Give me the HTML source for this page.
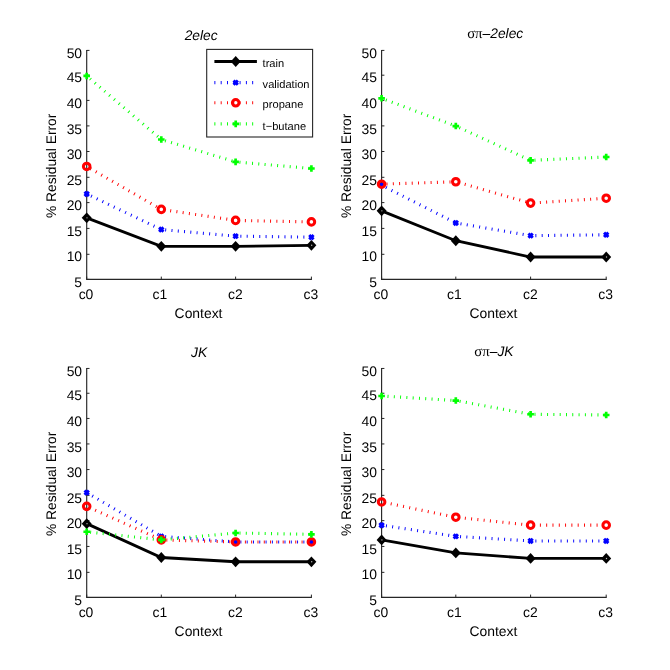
<!DOCTYPE html>
<html><head><meta charset="utf-8"><title>Residual Error</title>
<style>html,body{margin:0;padding:0;background:#fff}svg{display:block;will-change:transform;opacity:0.999}</style></head>
<body><svg width="670" height="670" viewBox="0 0 670 670" shape-rendering="geometricPrecision" text-rendering="geometricPrecision">
<rect width="670" height="670" fill="#fff"/>
<path d="M86.70 50.00L86.70 279.40L311.90 279.40" stroke="#262626" stroke-width="1.15" fill="none"/>
<path d="M86.70 279.40L89.50 279.40" stroke="#262626" stroke-width="1" fill="none"/>
<text x="82.10" y="286.50" text-anchor="end" font-family="Liberation Sans, sans-serif" font-size="13.9">5</text>
<path d="M86.70 254.30L89.50 254.30" stroke="#262626" stroke-width="1" fill="none"/>
<text x="82.10" y="261.00" text-anchor="end" font-family="Liberation Sans, sans-serif" font-size="13.9">10</text>
<path d="M86.70 228.40L89.50 228.40" stroke="#262626" stroke-width="1" fill="none"/>
<text x="82.10" y="235.70" text-anchor="end" font-family="Liberation Sans, sans-serif" font-size="13.9">15</text>
<path d="M86.70 202.60L89.50 202.60" stroke="#262626" stroke-width="1" fill="none"/>
<text x="82.10" y="209.90" text-anchor="end" font-family="Liberation Sans, sans-serif" font-size="13.9">20</text>
<path d="M86.70 177.30L89.50 177.30" stroke="#262626" stroke-width="1" fill="none"/>
<text x="82.10" y="184.80" text-anchor="end" font-family="Liberation Sans, sans-serif" font-size="13.9">25</text>
<path d="M86.70 151.50L89.50 151.50" stroke="#262626" stroke-width="1" fill="none"/>
<text x="82.10" y="158.70" text-anchor="end" font-family="Liberation Sans, sans-serif" font-size="13.9">30</text>
<path d="M86.70 125.90L89.50 125.90" stroke="#262626" stroke-width="1" fill="none"/>
<text x="82.10" y="133.60" text-anchor="end" font-family="Liberation Sans, sans-serif" font-size="13.9">35</text>
<path d="M86.70 100.40L89.50 100.40" stroke="#262626" stroke-width="1" fill="none"/>
<text x="82.10" y="107.80" text-anchor="end" font-family="Liberation Sans, sans-serif" font-size="13.9">40</text>
<path d="M86.70 75.20L89.50 75.20" stroke="#262626" stroke-width="1" fill="none"/>
<text x="82.10" y="82.20" text-anchor="end" font-family="Liberation Sans, sans-serif" font-size="13.9">45</text>
<path d="M86.70 50.40L89.50 50.40" stroke="#262626" stroke-width="1" fill="none"/>
<text x="82.10" y="57.70" text-anchor="end" font-family="Liberation Sans, sans-serif" font-size="13.9">50</text>
<path d="M86.70 279.40L86.70 276.60" stroke="#262626" stroke-width="1" fill="none"/>
<text x="86.00" y="299.40" text-anchor="middle" font-family="Liberation Sans, sans-serif" font-size="13.9">c0</text>
<path d="M161.30 279.40L161.30 276.60" stroke="#262626" stroke-width="1" fill="none"/>
<text x="159.90" y="299.40" text-anchor="middle" font-family="Liberation Sans, sans-serif" font-size="13.9">c1</text>
<path d="M235.60 279.40L235.60 276.60" stroke="#262626" stroke-width="1" fill="none"/>
<text x="235.30" y="299.40" text-anchor="middle" font-family="Liberation Sans, sans-serif" font-size="13.9">c2</text>
<path d="M311.40 279.40L311.40 276.60" stroke="#262626" stroke-width="1" fill="none"/>
<text x="310.80" y="299.40" text-anchor="middle" font-family="Liberation Sans, sans-serif" font-size="13.9">c3</text>
<text x="198.55" y="317.80" text-anchor="middle" font-family="Liberation Sans, sans-serif" font-size="13.9">Context</text>
<text transform="translate(56.30 165.85) rotate(-90)" text-anchor="middle" font-family="Liberation Sans, sans-serif" font-size="13.9" textLength="104.5" lengthAdjust="spacingAndGlyphs">% Residual Error</text>
<text x="201.15" y="39.50" text-anchor="middle" font-family="Liberation Sans, sans-serif" font-size="13.8" font-style="italic">2elec</text>
<path d="M86.70 217.85L161.30 246.34L235.60 246.34L311.40 245.32" stroke="#000" stroke-width="2.85" fill="none" stroke-linejoin="miter"/>
<path d="M81.70 217.85L86.70 212.45L91.70 217.85L86.70 223.25Z" fill="#000"/><circle cx="87.00" cy="217.85" r="0.7" fill="#bbb"/>
<path d="M156.30 246.34L161.30 240.94L166.30 246.34L161.30 251.74Z" fill="#000"/>
<path d="M230.60 246.34L235.60 240.94L240.60 246.34L235.60 251.74Z" fill="#000"/>
<path d="M306.40 245.32L311.40 239.92L316.40 245.32L311.40 250.72Z" fill="#000"/><circle cx="311.70" cy="245.32" r="0.7" fill="#bbb"/>
<path d="M86.70 193.94L161.30 229.55" stroke="#0000ff" stroke-width="3.1" fill="none" stroke-dasharray="0.95 5.35" stroke-dashoffset="-4.80"/><path d="M161.30 229.55L235.60 236.16" stroke="#0000ff" stroke-width="3.1" fill="none" stroke-dasharray="0.95 5.35" stroke-dashoffset="-3.95"/><path d="M235.60 236.16L311.40 237.18" stroke="#0000ff" stroke-width="3.1" fill="none" stroke-dasharray="0.95 5.35" stroke-dashoffset="-4.80"/>
<path d="M84.55 191.79L88.85 196.09M84.55 196.09L88.85 191.79" stroke="#0000ff" stroke-width="3.0" fill="none"/>
<path d="M159.15 227.40L163.45 231.70M159.15 231.70L163.45 227.40" stroke="#0000ff" stroke-width="3.0" fill="none"/>
<path d="M233.45 234.01L237.75 238.31M233.45 238.31L237.75 234.01" stroke="#0000ff" stroke-width="3.0" fill="none"/>
<path d="M309.25 235.03L313.55 239.33M309.25 239.33L313.55 235.03" stroke="#0000ff" stroke-width="3.0" fill="none"/>
<path d="M86.70 166.48L161.30 209.41" stroke="#ff0000" stroke-width="3.1" fill="none" stroke-dasharray="0.95 5.35" stroke-dashoffset="-4.20"/><path d="M161.30 209.41L235.60 220.39" stroke="#ff0000" stroke-width="3.1" fill="none" stroke-dasharray="0.95 5.35" stroke-dashoffset="-2.70"/><path d="M235.60 220.39L311.40 221.92" stroke="#ff0000" stroke-width="3.1" fill="none" stroke-dasharray="0.95 5.35" stroke-dashoffset="-3.00"/>
<circle cx="86.70" cy="166.48" r="3.3" stroke="#ff0000" stroke-width="3.0" fill="none"/>
<circle cx="161.30" cy="209.41" r="3.3" stroke="#ff0000" stroke-width="3.0" fill="none"/>
<circle cx="235.60" cy="220.39" r="3.3" stroke="#ff0000" stroke-width="3.0" fill="none"/>
<circle cx="311.40" cy="221.92" r="3.3" stroke="#ff0000" stroke-width="3.0" fill="none"/>
<path d="M86.70 75.93L161.30 139.52" stroke="#00ff00" stroke-width="3.1" fill="none" stroke-dasharray="0.95 5.35" stroke-dashoffset="-4.45"/><path d="M161.30 139.52L235.60 161.90" stroke="#00ff00" stroke-width="3.1" fill="none" stroke-dasharray="0.95 5.35" stroke-dashoffset="-3.90"/><path d="M235.60 161.90L311.40 168.51" stroke="#00ff00" stroke-width="3.1" fill="none" stroke-dasharray="0.95 5.35" stroke-dashoffset="-3.90"/>
<path d="M83.40 75.93L90.00 75.93M86.70 72.63L86.70 79.23" stroke="#00ff00" stroke-width="2.67" fill="none"/>
<path d="M158.00 139.52L164.60 139.52M161.30 136.22L161.30 142.82" stroke="#00ff00" stroke-width="2.67" fill="none"/>
<path d="M232.30 161.90L238.90 161.90M235.60 158.60L235.60 165.20" stroke="#00ff00" stroke-width="2.67" fill="none"/>
<path d="M308.10 168.51L314.70 168.51M311.40 165.21L311.40 171.81" stroke="#00ff00" stroke-width="2.67" fill="none"/>
<path d="M381.60 50.00L381.60 279.40L606.70 279.40" stroke="#262626" stroke-width="1.15" fill="none"/>
<path d="M381.60 279.40L384.40 279.40" stroke="#262626" stroke-width="1" fill="none"/>
<text x="377.00" y="286.50" text-anchor="end" font-family="Liberation Sans, sans-serif" font-size="13.9">5</text>
<path d="M381.60 254.30L384.40 254.30" stroke="#262626" stroke-width="1" fill="none"/>
<text x="377.00" y="261.00" text-anchor="end" font-family="Liberation Sans, sans-serif" font-size="13.9">10</text>
<path d="M381.60 228.40L384.40 228.40" stroke="#262626" stroke-width="1" fill="none"/>
<text x="377.00" y="235.70" text-anchor="end" font-family="Liberation Sans, sans-serif" font-size="13.9">15</text>
<path d="M381.60 202.60L384.40 202.60" stroke="#262626" stroke-width="1" fill="none"/>
<text x="377.00" y="209.90" text-anchor="end" font-family="Liberation Sans, sans-serif" font-size="13.9">20</text>
<path d="M381.60 177.30L384.40 177.30" stroke="#262626" stroke-width="1" fill="none"/>
<text x="377.00" y="184.80" text-anchor="end" font-family="Liberation Sans, sans-serif" font-size="13.9">25</text>
<path d="M381.60 151.50L384.40 151.50" stroke="#262626" stroke-width="1" fill="none"/>
<text x="377.00" y="158.70" text-anchor="end" font-family="Liberation Sans, sans-serif" font-size="13.9">30</text>
<path d="M381.60 125.90L384.40 125.90" stroke="#262626" stroke-width="1" fill="none"/>
<text x="377.00" y="133.60" text-anchor="end" font-family="Liberation Sans, sans-serif" font-size="13.9">35</text>
<path d="M381.60 100.40L384.40 100.40" stroke="#262626" stroke-width="1" fill="none"/>
<text x="377.00" y="107.80" text-anchor="end" font-family="Liberation Sans, sans-serif" font-size="13.9">40</text>
<path d="M381.60 75.20L384.40 75.20" stroke="#262626" stroke-width="1" fill="none"/>
<text x="377.00" y="82.20" text-anchor="end" font-family="Liberation Sans, sans-serif" font-size="13.9">45</text>
<path d="M381.60 50.40L384.40 50.40" stroke="#262626" stroke-width="1" fill="none"/>
<text x="377.00" y="57.70" text-anchor="end" font-family="Liberation Sans, sans-serif" font-size="13.9">50</text>
<path d="M381.60 279.40L381.60 276.60" stroke="#262626" stroke-width="1" fill="none"/>
<text x="380.90" y="299.40" text-anchor="middle" font-family="Liberation Sans, sans-serif" font-size="13.9">c0</text>
<path d="M455.80 279.40L455.80 276.60" stroke="#262626" stroke-width="1" fill="none"/>
<text x="454.40" y="299.40" text-anchor="middle" font-family="Liberation Sans, sans-serif" font-size="13.9">c1</text>
<path d="M530.60 279.40L530.60 276.60" stroke="#262626" stroke-width="1" fill="none"/>
<text x="530.30" y="299.40" text-anchor="middle" font-family="Liberation Sans, sans-serif" font-size="13.9">c2</text>
<path d="M606.20 279.40L606.20 276.60" stroke="#262626" stroke-width="1" fill="none"/>
<text x="605.60" y="299.40" text-anchor="middle" font-family="Liberation Sans, sans-serif" font-size="13.9">c3</text>
<text x="493.40" y="317.80" text-anchor="middle" font-family="Liberation Sans, sans-serif" font-size="13.9">Context</text>
<text transform="translate(351.20 165.85) rotate(-90)" text-anchor="middle" font-family="Liberation Sans, sans-serif" font-size="13.9" textLength="104.5" lengthAdjust="spacingAndGlyphs">% Residual Error</text>
<text x="495.20" y="38.40" text-anchor="middle" font-family="Liberation Sans, sans-serif" font-size="13.8"><tspan font-family="Liberation Serif, serif" font-size="14.8">σπ</tspan><tspan font-style="italic">–2elec</tspan></text>
<path d="M381.60 210.83L455.80 240.74L530.60 257.02L606.20 257.02" stroke="#000" stroke-width="2.85" fill="none" stroke-linejoin="miter"/>
<path d="M376.60 210.83L381.60 205.43L386.60 210.83L381.60 216.23Z" fill="#000"/><circle cx="381.90" cy="210.83" r="0.7" fill="#bbb"/>
<path d="M450.80 240.74L455.80 235.34L460.80 240.74L455.80 246.14Z" fill="#000"/>
<path d="M525.60 257.02L530.60 251.62L535.60 257.02L530.60 262.42Z" fill="#000"/>
<path d="M601.20 257.02L606.20 251.62L611.20 257.02L606.20 262.42Z" fill="#000"/><circle cx="606.50" cy="257.02" r="0.7" fill="#bbb"/>
<path d="M381.60 185.30L455.80 222.94" stroke="#0000ff" stroke-width="3.1" fill="none" stroke-dasharray="0.95 5.35" stroke-dashoffset="-4.80"/><path d="M455.80 222.94L530.60 235.65" stroke="#0000ff" stroke-width="3.1" fill="none" stroke-dasharray="0.95 5.35" stroke-dashoffset="-4.80"/><path d="M530.60 235.65L606.20 234.79" stroke="#0000ff" stroke-width="3.1" fill="none" stroke-dasharray="0.95 5.35" stroke-dashoffset="-4.80"/>
<path d="M379.45 183.15L383.75 187.45M379.45 187.45L383.75 183.15" stroke="#0000ff" stroke-width="3.0" fill="none"/>
<path d="M453.65 220.79L457.95 225.09M453.65 225.09L457.95 220.79" stroke="#0000ff" stroke-width="3.0" fill="none"/>
<path d="M528.45 233.50L532.75 237.80M528.45 237.80L532.75 233.50" stroke="#0000ff" stroke-width="3.0" fill="none"/>
<path d="M604.05 232.64L608.35 236.94M604.05 236.94L608.35 232.64" stroke="#0000ff" stroke-width="3.0" fill="none"/>
<path d="M381.60 184.18L455.80 181.74" stroke="#ff0000" stroke-width="3.1" fill="none" stroke-dasharray="0.95 5.35" stroke-dashoffset="-4.95"/><path d="M455.80 181.74L530.60 203.10" stroke="#ff0000" stroke-width="3.1" fill="none" stroke-dasharray="0.95 5.35" stroke-dashoffset="-3.00"/><path d="M530.60 203.10L606.20 198.22" stroke="#ff0000" stroke-width="3.1" fill="none" stroke-dasharray="0.95 5.35" stroke-dashoffset="-3.00"/>
<circle cx="381.60" cy="184.18" r="3.3" stroke="#ff0000" stroke-width="3.0" fill="none"/>
<circle cx="455.80" cy="181.74" r="3.3" stroke="#ff0000" stroke-width="3.0" fill="none"/>
<circle cx="530.60" cy="203.10" r="3.3" stroke="#ff0000" stroke-width="3.0" fill="none"/>
<circle cx="606.20" cy="198.22" r="3.3" stroke="#ff0000" stroke-width="3.0" fill="none"/>
<path d="M381.60 98.31L455.80 126.04" stroke="#00ff00" stroke-width="3.1" fill="none" stroke-dasharray="0.95 5.35" stroke-dashoffset="-4.55"/><path d="M455.80 126.04L530.60 160.37" stroke="#00ff00" stroke-width="3.1" fill="none" stroke-dasharray="0.95 5.35" stroke-dashoffset="-3.90"/><path d="M530.60 160.37L606.20 157.01" stroke="#00ff00" stroke-width="3.1" fill="none" stroke-dasharray="0.95 5.35" stroke-dashoffset="-3.90"/>
<path d="M378.30 98.31L384.90 98.31M381.60 95.01L381.60 101.61" stroke="#00ff00" stroke-width="2.67" fill="none"/>
<path d="M452.50 126.04L459.10 126.04M455.80 122.74L455.80 129.34" stroke="#00ff00" stroke-width="2.67" fill="none"/>
<path d="M527.30 160.37L533.90 160.37M530.60 157.07L530.60 163.67" stroke="#00ff00" stroke-width="2.67" fill="none"/>
<path d="M602.90 157.01L609.50 157.01M606.20 153.71L606.20 160.31" stroke="#00ff00" stroke-width="2.67" fill="none"/>
<path d="M86.70 368.00L86.70 597.40L311.90 597.40" stroke="#262626" stroke-width="1.15" fill="none"/>
<path d="M86.70 597.45L89.50 597.45" stroke="#262626" stroke-width="1" fill="none"/>
<text x="82.10" y="604.55" text-anchor="end" font-family="Liberation Sans, sans-serif" font-size="13.9">5</text>
<path d="M86.70 572.35L89.50 572.35" stroke="#262626" stroke-width="1" fill="none"/>
<text x="82.10" y="579.05" text-anchor="end" font-family="Liberation Sans, sans-serif" font-size="13.9">10</text>
<path d="M86.70 546.45L89.50 546.45" stroke="#262626" stroke-width="1" fill="none"/>
<text x="82.10" y="553.75" text-anchor="end" font-family="Liberation Sans, sans-serif" font-size="13.9">15</text>
<path d="M86.70 520.65L89.50 520.65" stroke="#262626" stroke-width="1" fill="none"/>
<text x="82.10" y="527.95" text-anchor="end" font-family="Liberation Sans, sans-serif" font-size="13.9">20</text>
<path d="M86.70 495.35L89.50 495.35" stroke="#262626" stroke-width="1" fill="none"/>
<text x="82.10" y="502.85" text-anchor="end" font-family="Liberation Sans, sans-serif" font-size="13.9">25</text>
<path d="M86.70 469.55L89.50 469.55" stroke="#262626" stroke-width="1" fill="none"/>
<text x="82.10" y="476.75" text-anchor="end" font-family="Liberation Sans, sans-serif" font-size="13.9">30</text>
<path d="M86.70 443.95L89.50 443.95" stroke="#262626" stroke-width="1" fill="none"/>
<text x="82.10" y="451.65" text-anchor="end" font-family="Liberation Sans, sans-serif" font-size="13.9">35</text>
<path d="M86.70 418.45L89.50 418.45" stroke="#262626" stroke-width="1" fill="none"/>
<text x="82.10" y="425.85" text-anchor="end" font-family="Liberation Sans, sans-serif" font-size="13.9">40</text>
<path d="M86.70 393.25L89.50 393.25" stroke="#262626" stroke-width="1" fill="none"/>
<text x="82.10" y="400.25" text-anchor="end" font-family="Liberation Sans, sans-serif" font-size="13.9">45</text>
<path d="M86.70 368.45L89.50 368.45" stroke="#262626" stroke-width="1" fill="none"/>
<text x="82.10" y="375.75" text-anchor="end" font-family="Liberation Sans, sans-serif" font-size="13.9">50</text>
<path d="M86.70 597.40L86.70 594.60" stroke="#262626" stroke-width="1" fill="none"/>
<text x="86.00" y="617.40" text-anchor="middle" font-family="Liberation Sans, sans-serif" font-size="13.9">c0</text>
<path d="M161.30 597.40L161.30 594.60" stroke="#262626" stroke-width="1" fill="none"/>
<text x="159.90" y="617.40" text-anchor="middle" font-family="Liberation Sans, sans-serif" font-size="13.9">c1</text>
<path d="M235.60 597.40L235.60 594.60" stroke="#262626" stroke-width="1" fill="none"/>
<text x="235.30" y="617.40" text-anchor="middle" font-family="Liberation Sans, sans-serif" font-size="13.9">c2</text>
<path d="M311.40 597.40L311.40 594.60" stroke="#262626" stroke-width="1" fill="none"/>
<text x="310.80" y="617.40" text-anchor="middle" font-family="Liberation Sans, sans-serif" font-size="13.9">c3</text>
<text x="198.55" y="635.80" text-anchor="middle" font-family="Liberation Sans, sans-serif" font-size="13.9">Context</text>
<text transform="translate(56.30 483.85) rotate(-90)" text-anchor="middle" font-family="Liberation Sans, sans-serif" font-size="13.9" textLength="104.5" lengthAdjust="spacingAndGlyphs">% Residual Error</text>
<text x="199.15" y="357.20" text-anchor="middle" font-family="Liberation Sans, sans-serif" font-size="13.8" font-style="italic">JK</text>
<path d="M86.70 523.64L161.30 557.52L235.60 561.79L311.40 561.79" stroke="#000" stroke-width="2.85" fill="none" stroke-linejoin="miter"/>
<path d="M81.70 523.64L86.70 518.24L91.70 523.64L86.70 529.04Z" fill="#000"/><circle cx="87.00" cy="523.64" r="0.7" fill="#bbb"/>
<path d="M156.30 557.52L161.30 552.12L166.30 557.52L161.30 562.92Z" fill="#000"/>
<path d="M230.60 561.79L235.60 556.39L240.60 561.79L235.60 567.19Z" fill="#000"/>
<path d="M306.40 561.79L311.40 556.39L316.40 561.79L311.40 567.19Z" fill="#000"/><circle cx="311.70" cy="561.79" r="0.7" fill="#bbb"/>
<path d="M86.70 492.61L161.30 536.36" stroke="#0000ff" stroke-width="3.1" fill="none" stroke-dasharray="0.95 5.35" stroke-dashoffset="-6.40"/><path d="M161.30 536.36L235.60 541.96" stroke="#0000ff" stroke-width="3.1" fill="none" stroke-dasharray="0.95 5.35" stroke-dashoffset="-3.90"/><path d="M235.60 541.96L311.40 541.96" stroke="#0000ff" stroke-width="3.1" fill="none" stroke-dasharray="0.95 5.35" stroke-dashoffset="-4.80"/>
<path d="M84.55 490.46L88.85 494.76M84.55 494.76L88.85 490.46" stroke="#0000ff" stroke-width="3.0" fill="none"/>
<path d="M159.15 534.21L163.45 538.51M159.15 538.51L163.45 534.21" stroke="#0000ff" stroke-width="3.0" fill="none"/>
<path d="M233.45 539.81L237.75 544.11M233.45 544.11L237.75 539.81" stroke="#0000ff" stroke-width="3.0" fill="none"/>
<path d="M309.25 539.81L313.55 544.11M309.25 544.11L313.55 539.81" stroke="#0000ff" stroke-width="3.0" fill="none"/>
<path d="M86.70 506.35L161.30 539.92" stroke="#ff0000" stroke-width="3.1" fill="none" stroke-dasharray="0.95 5.35" stroke-dashoffset="-3.00"/><path d="M161.30 539.92L235.60 541.96" stroke="#ff0000" stroke-width="3.1" fill="none" stroke-dasharray="0.95 5.35" stroke-dashoffset="-5.05"/><path d="M235.60 541.96L311.40 541.96" stroke="#ff0000" stroke-width="3.1" fill="none" stroke-dasharray="0.95 5.35" stroke-dashoffset="-3.00"/>
<circle cx="86.70" cy="506.35" r="3.3" stroke="#ff0000" stroke-width="3.0" fill="none"/>
<circle cx="161.30" cy="539.92" r="3.3" stroke="#ff0000" stroke-width="3.0" fill="none"/>
<circle cx="235.60" cy="541.96" r="3.3" stroke="#ff0000" stroke-width="3.0" fill="none"/>
<circle cx="311.40" cy="541.96" r="3.3" stroke="#ff0000" stroke-width="3.0" fill="none"/>
<path d="M86.70 531.78L161.30 539.92" stroke="#00ff00" stroke-width="3.1" fill="none" stroke-dasharray="0.95 5.35" stroke-dashoffset="-3.50"/><path d="M161.30 539.92L235.60 533.00" stroke="#00ff00" stroke-width="3.1" fill="none" stroke-dasharray="0.95 5.35" stroke-dashoffset="-3.10"/><path d="M235.60 533.00L311.40 534.33" stroke="#00ff00" stroke-width="3.1" fill="none" stroke-dasharray="0.95 5.35" stroke-dashoffset="-3.90"/>
<path d="M83.40 531.78L90.00 531.78M86.70 528.48L86.70 535.08" stroke="#00ff00" stroke-width="2.67" fill="none"/>
<path d="M158.00 539.92L164.60 539.92M161.30 536.62L161.30 543.22" stroke="#00ff00" stroke-width="2.67" fill="none"/>
<path d="M232.30 533.00L238.90 533.00M235.60 529.70L235.60 536.30" stroke="#00ff00" stroke-width="2.67" fill="none"/>
<path d="M308.10 534.33L314.70 534.33M311.40 531.03L311.40 537.63" stroke="#00ff00" stroke-width="2.67" fill="none"/>
<path d="M381.60 368.00L381.60 597.40L606.70 597.40" stroke="#262626" stroke-width="1.15" fill="none"/>
<path d="M381.60 597.45L384.40 597.45" stroke="#262626" stroke-width="1" fill="none"/>
<text x="377.00" y="604.55" text-anchor="end" font-family="Liberation Sans, sans-serif" font-size="13.9">5</text>
<path d="M381.60 572.35L384.40 572.35" stroke="#262626" stroke-width="1" fill="none"/>
<text x="377.00" y="579.05" text-anchor="end" font-family="Liberation Sans, sans-serif" font-size="13.9">10</text>
<path d="M381.60 546.45L384.40 546.45" stroke="#262626" stroke-width="1" fill="none"/>
<text x="377.00" y="553.75" text-anchor="end" font-family="Liberation Sans, sans-serif" font-size="13.9">15</text>
<path d="M381.60 520.65L384.40 520.65" stroke="#262626" stroke-width="1" fill="none"/>
<text x="377.00" y="527.95" text-anchor="end" font-family="Liberation Sans, sans-serif" font-size="13.9">20</text>
<path d="M381.60 495.35L384.40 495.35" stroke="#262626" stroke-width="1" fill="none"/>
<text x="377.00" y="502.85" text-anchor="end" font-family="Liberation Sans, sans-serif" font-size="13.9">25</text>
<path d="M381.60 469.55L384.40 469.55" stroke="#262626" stroke-width="1" fill="none"/>
<text x="377.00" y="476.75" text-anchor="end" font-family="Liberation Sans, sans-serif" font-size="13.9">30</text>
<path d="M381.60 443.95L384.40 443.95" stroke="#262626" stroke-width="1" fill="none"/>
<text x="377.00" y="451.65" text-anchor="end" font-family="Liberation Sans, sans-serif" font-size="13.9">35</text>
<path d="M381.60 418.45L384.40 418.45" stroke="#262626" stroke-width="1" fill="none"/>
<text x="377.00" y="425.85" text-anchor="end" font-family="Liberation Sans, sans-serif" font-size="13.9">40</text>
<path d="M381.60 393.25L384.40 393.25" stroke="#262626" stroke-width="1" fill="none"/>
<text x="377.00" y="400.25" text-anchor="end" font-family="Liberation Sans, sans-serif" font-size="13.9">45</text>
<path d="M381.60 368.45L384.40 368.45" stroke="#262626" stroke-width="1" fill="none"/>
<text x="377.00" y="375.75" text-anchor="end" font-family="Liberation Sans, sans-serif" font-size="13.9">50</text>
<path d="M381.60 597.40L381.60 594.60" stroke="#262626" stroke-width="1" fill="none"/>
<text x="380.90" y="617.40" text-anchor="middle" font-family="Liberation Sans, sans-serif" font-size="13.9">c0</text>
<path d="M455.80 597.40L455.80 594.60" stroke="#262626" stroke-width="1" fill="none"/>
<text x="454.40" y="617.40" text-anchor="middle" font-family="Liberation Sans, sans-serif" font-size="13.9">c1</text>
<path d="M530.60 597.40L530.60 594.60" stroke="#262626" stroke-width="1" fill="none"/>
<text x="530.30" y="617.40" text-anchor="middle" font-family="Liberation Sans, sans-serif" font-size="13.9">c2</text>
<path d="M606.20 597.40L606.20 594.60" stroke="#262626" stroke-width="1" fill="none"/>
<text x="605.60" y="617.40" text-anchor="middle" font-family="Liberation Sans, sans-serif" font-size="13.9">c3</text>
<text x="493.40" y="635.80" text-anchor="middle" font-family="Liberation Sans, sans-serif" font-size="13.9">Context</text>
<text transform="translate(351.20 483.85) rotate(-90)" text-anchor="middle" font-family="Liberation Sans, sans-serif" font-size="13.9" textLength="104.5" lengthAdjust="spacingAndGlyphs">% Residual Error</text>
<text x="493.90" y="356.40" text-anchor="middle" font-family="Liberation Sans, sans-serif" font-size="13.8"><tspan font-family="Liberation Serif, serif" font-size="14.8">σπ</tspan><tspan font-style="italic">–JK</tspan></text>
<path d="M381.60 539.92L455.80 552.89L530.60 558.44L606.20 558.44" stroke="#000" stroke-width="2.85" fill="none" stroke-linejoin="miter"/>
<path d="M376.60 539.92L381.60 534.52L386.60 539.92L381.60 545.32Z" fill="#000"/><circle cx="381.90" cy="539.92" r="0.7" fill="#bbb"/>
<path d="M450.80 552.89L455.80 547.49L460.80 552.89L455.80 558.29Z" fill="#000"/>
<path d="M525.60 558.44L530.60 553.04L535.60 558.44L530.60 563.84Z" fill="#000"/>
<path d="M601.20 558.44L606.20 553.04L611.20 558.44L606.20 563.84Z" fill="#000"/><circle cx="606.50" cy="558.44" r="0.7" fill="#bbb"/>
<path d="M381.60 525.17L455.80 536.36" stroke="#0000ff" stroke-width="3.1" fill="none" stroke-dasharray="0.95 5.35" stroke-dashoffset="-4.40"/><path d="M455.80 536.36L530.60 540.94" stroke="#0000ff" stroke-width="3.1" fill="none" stroke-dasharray="0.95 5.35" stroke-dashoffset="-4.30"/><path d="M530.60 540.94L606.20 540.94" stroke="#0000ff" stroke-width="3.1" fill="none" stroke-dasharray="0.95 5.35" stroke-dashoffset="-4.80"/>
<path d="M379.45 523.02L383.75 527.32M379.45 527.32L383.75 523.02" stroke="#0000ff" stroke-width="3.0" fill="none"/>
<path d="M453.65 534.21L457.95 538.51M453.65 538.51L457.95 534.21" stroke="#0000ff" stroke-width="3.0" fill="none"/>
<path d="M528.45 538.79L532.75 543.09M528.45 543.09L532.75 538.79" stroke="#0000ff" stroke-width="3.0" fill="none"/>
<path d="M604.05 538.79L608.35 543.09M604.05 543.09L608.35 538.79" stroke="#0000ff" stroke-width="3.0" fill="none"/>
<path d="M381.60 501.97L455.80 517.23" stroke="#ff0000" stroke-width="3.1" fill="none" stroke-dasharray="0.95 5.35" stroke-dashoffset="-3.00"/><path d="M455.80 517.23L530.60 525.17" stroke="#ff0000" stroke-width="3.1" fill="none" stroke-dasharray="0.95 5.35" stroke-dashoffset="-2.80"/><path d="M530.60 525.17L606.20 525.17" stroke="#ff0000" stroke-width="3.1" fill="none" stroke-dasharray="0.95 5.35" stroke-dashoffset="-3.00"/>
<circle cx="381.60" cy="501.97" r="3.3" stroke="#ff0000" stroke-width="3.0" fill="none"/>
<circle cx="455.80" cy="517.23" r="3.3" stroke="#ff0000" stroke-width="3.0" fill="none"/>
<circle cx="530.60" cy="525.17" r="3.3" stroke="#ff0000" stroke-width="3.0" fill="none"/>
<circle cx="606.20" cy="525.17" r="3.3" stroke="#ff0000" stroke-width="3.0" fill="none"/>
<path d="M381.60 395.97L455.80 400.55" stroke="#00ff00" stroke-width="3.1" fill="none" stroke-dasharray="0.95 5.35" stroke-dashoffset="-5.95"/><path d="M455.80 400.55L530.60 414.28" stroke="#00ff00" stroke-width="3.1" fill="none" stroke-dasharray="0.95 5.35" stroke-dashoffset="-3.90"/><path d="M530.60 414.28L606.20 414.99" stroke="#00ff00" stroke-width="3.1" fill="none" stroke-dasharray="0.95 5.35" stroke-dashoffset="-3.90"/>
<path d="M378.30 395.97L384.90 395.97M381.60 392.67L381.60 399.27" stroke="#00ff00" stroke-width="2.67" fill="none"/>
<path d="M452.50 400.55L459.10 400.55M455.80 397.25L455.80 403.85" stroke="#00ff00" stroke-width="2.67" fill="none"/>
<path d="M527.30 414.28L533.90 414.28M530.60 410.98L530.60 417.58" stroke="#00ff00" stroke-width="2.67" fill="none"/>
<path d="M602.90 414.99L609.50 414.99M606.20 411.69L606.20 418.29" stroke="#00ff00" stroke-width="2.67" fill="none"/>
<rect x="206.7" y="49.4" width="105.90" height="87.60" fill="#fff" stroke="#262626" stroke-width="1.1"/>
<path d="M214.40 61.50L256.90 61.50" stroke="#000" stroke-width="2.85" fill="none" stroke-linejoin="miter"/>
<path d="M230.70 61.50L235.70 56.10L240.70 61.50L235.70 66.90Z" fill="#000"/>
<text x="262.6" y="67.10" font-family="Liberation Sans, sans-serif" font-size="11.1">train</text>
<path d="M214.40 82.60L256.90 82.60" stroke="#0000ff" stroke-width="3.1" fill="none" stroke-dasharray="0.95 5.35" stroke-dashoffset="-0.00"/>
<path d="M233.55 80.45L237.85 84.75M233.55 84.75L237.85 80.45" stroke="#0000ff" stroke-width="3.0" fill="none"/>
<text x="262.6" y="88.20" font-family="Liberation Sans, sans-serif" font-size="11.1">validation</text>
<path d="M214.40 102.80L256.90 102.80" stroke="#ff0000" stroke-width="3.1" fill="none" stroke-dasharray="0.95 5.35" stroke-dashoffset="-0.00"/>
<circle cx="235.70" cy="102.80" r="3.3" stroke="#ff0000" stroke-width="3.0" fill="none"/>
<text x="262.6" y="108.40" font-family="Liberation Sans, sans-serif" font-size="11.1">propane</text>
<path d="M214.40 123.90L256.90 123.90" stroke="#00ff00" stroke-width="3.1" fill="none" stroke-dasharray="0.95 5.35" stroke-dashoffset="-0.00"/>
<path d="M232.40 123.90L239.00 123.90M235.70 120.60L235.70 127.20" stroke="#00ff00" stroke-width="2.67" fill="none"/>
<text x="262.6" y="129.50" font-family="Liberation Sans, sans-serif" font-size="11.1">t−butane</text>
</svg></body></html>
